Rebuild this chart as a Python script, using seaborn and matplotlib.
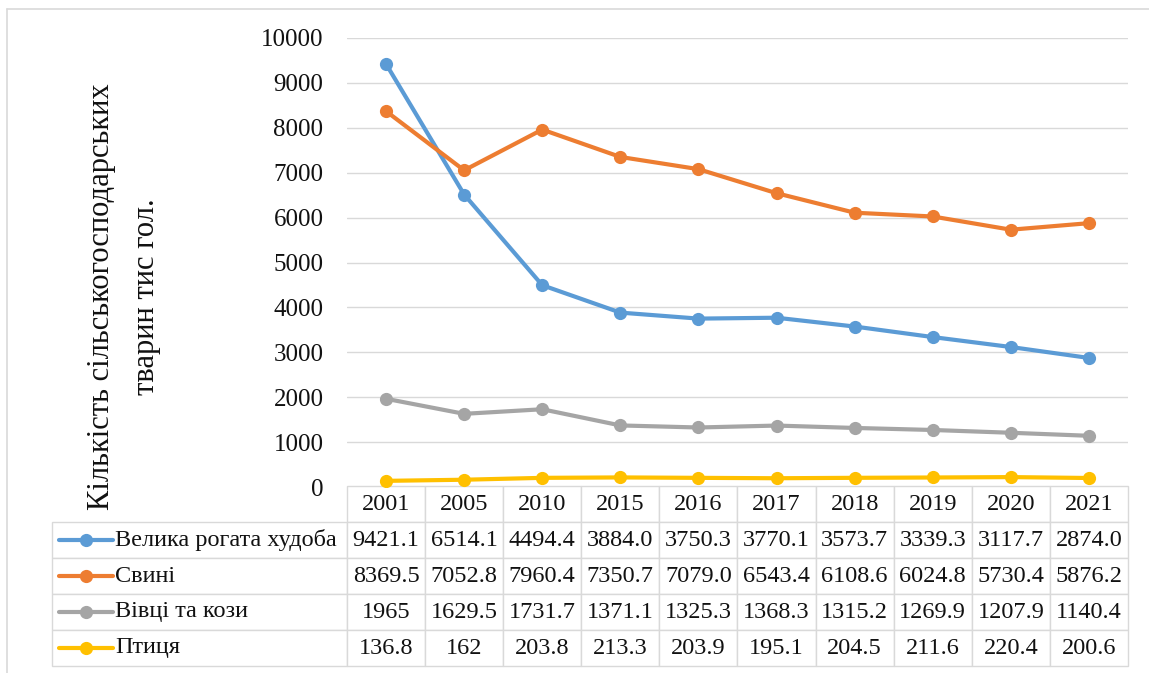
import numpy as np
import pandas as pd
import matplotlib
matplotlib.use('Agg')
import matplotlib.pyplot as plt
from matplotlib.lines import Line2D
import seaborn as sns

# data
years = ["2001", "2005", "2010", "2015", "2016", "2017", "2018", "2019", "2020", "2021"]
cattle = [9421.1, 6514.1, 4494.4, 3884.0, 3750.3, 3770.1, 3573.7, 3339.3, 3117.7, 2874.0]
pigs = [8369.5, 7052.8, 7960.4, 7350.7, 7079.0, 6543.4, 6108.6, 6024.8, 5730.4, 5876.2]
sheep_goats = [1965, 1629.5, 1731.7, 1371.1, 1325.3, 1368.3, 1315.2, 1269.9, 1207.9, 1140.4]
poultry = [136.8, 162, 203.8, 213.3, 203.9, 195.1, 204.5, 211.6, 220.4, 200.6]

series_names = ["Велика рогата худоба", "Свині", "Вівці та кози", "Птиця"]
series_values = [cattle, pigs, sheep_goats, poultry]
series_fmt = ["{:.1f}", "{:.1f}", "{:g}", "{:g}"]
colors = ["#5B9BD5", "#ED7D31", "#A5A5A5", "#FFC000"]
y_label = "Кількість сільськогосподарських\nтварин тис гол."

sns.set_theme(style="white")
plt.rcParams['font.family'] = ['Liberation Serif', 'DejaVu Serif']

W, H = 1149, 673
fig = plt.figure(figsize=(W / 100, H / 100), dpi=100)
# plot area in pixels: x 347..1128, y 38..487
ax = fig.add_axes([347 / W, 1 - 487 / H, (1128 - 347) / W, (487 - 38) / H])

rows = []
for name, vals in zip(series_names, series_values):
    for i, v in enumerate(vals):
        rows.append({"pos": i, "value": v, "series": name})
df = pd.DataFrame(rows)

sns.lineplot(data=df, x="pos", y="value", hue="series", hue_order=series_names,
             palette=colors, marker="o", markersize=9.5, markeredgewidth=0,
             linewidth=3, legend=False, ax=ax, zorder=3)

ax.set_xlim(-0.5, len(years) - 0.5)
ax.set_ylim(0, 10000)
ax.set_yticks(np.arange(0, 10001, 1000))
ax.set_xticks([])
ax.set_xlabel("")
ax.set_ylabel("")
ax.tick_params(axis='y', length=0, pad=17, labelsize=18, labelcolor="#111111")
ax.yaxis.grid(True, color="#D9D9D9", lw=1)
ax.xaxis.grid(False)
for s in ax.spines.values():
    s.set_visible(False)

# data table below the plot
ax_h_px = 487 - 38
ax_w_px = 1128 - 347
tbl_left = (52 - 347) / ax_w_px
tbl_top = (487 - 486) / ax_h_px
tbl_height = (666 - 486) / ax_h_px
row_h = tbl_height / 5

cell_text = [[""] + years]
for name, vals, fmt in zip(series_names, series_values, series_fmt):
    cell_text.append([name] + [fmt.format(v) for v in vals])

col_widths = [295] + [ax_w_px / len(years)] * len(years)
tbl = ax.table(cellText=cell_text, colWidths=col_widths, cellLoc="center",
               bbox=[tbl_left, tbl_top - tbl_height, 1 - tbl_left, tbl_height])
tbl.auto_set_font_size(False)
tbl.set_fontsize(17.5)
for (r, c), cell in tbl.get_celld().items():
    cell.set_edgecolor("#D9D9D9")
    cell.set_linewidth(1)
    cell.get_text().set_color("#111111")
    if r == 0 and c == 0:
        cell.visible_edges = "open"
    if c == 0 and r > 0:
        cell.get_text().set_ha("left")
        cell._loc = "left"
        cell.PAD = 0.215

# legend keys in the first column
for i, col in enumerate(colors):
    yk = tbl_top - (i + 1.5) * row_h
    x0 = (59 - 347) / ax_w_px
    x1 = (113 - 347) / ax_w_px
    ax.add_line(Line2D([x0, x1], [yk, yk], transform=ax.transAxes, color=col,
                       lw=3, clip_on=False))
    ax.add_line(Line2D([(x0 + x1) / 2], [yk], transform=ax.transAxes, color=col,
                       marker="o", markersize=9.5, markeredgewidth=0, clip_on=False))

fig.text(124 / W, 1 - 297 / H, y_label, rotation=90, ha="center", va="center",
         fontsize=22, linespacing=1.75, color="#111111", multialignment="center")

# outer chart frame (top and left edges visible)
fig.add_artist(Line2D([7 / W, 1.0], [1 - 9 / H, 1 - 9 / H], transform=fig.transFigure,
                      color="#D9D9D9", lw=1.2))
fig.add_artist(Line2D([7 / W, 7 / W], [0, 1 - 9 / H], transform=fig.transFigure,
                      color="#D9D9D9", lw=1.2))

fig.savefig("out.png", dpi=100, facecolor="white")
